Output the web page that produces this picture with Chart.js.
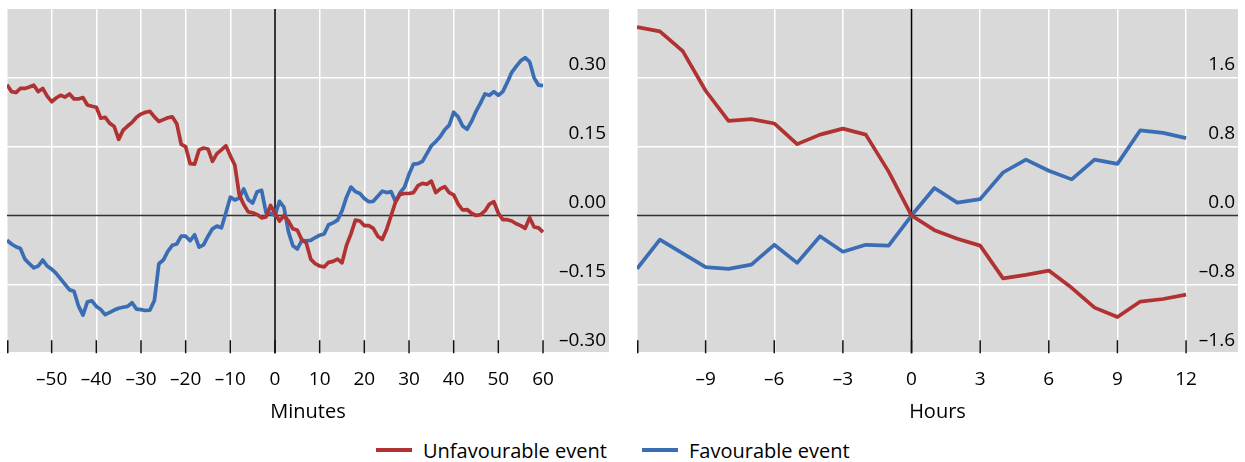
<!DOCTYPE html>
<html>
<head>
<meta charset="utf-8">
<script src="https://cdn.jsdelivr.net/npm/chart.js@4"></script>
<style>
  html, body { margin: 0; padding: 0; background: #fff; }
  body { width: 1245px; height: 462px; position: relative; overflow: hidden; font-family: "Open Sans", sans-serif; }
  #c1 { position: absolute; left: 0; top: 0; }
  #c2 { position: absolute; left: 620px; top: 0; }
  .leg { position: absolute; top: 437px; height: 26px; display: flex; align-items: center; font-size: 20px; color: #000; white-space: nowrap; }
  .leg .sw { width: 36px; height: 4px; margin-right: 11px; }
</style>
</head>
<body>
<canvas id="c1" width="620" height="430" style="width:620px;height:430px"></canvas>
<canvas id="c2" width="625" height="430" style="width:625px;height:430px"></canvas>
<div class="leg" style="left:376px"><span class="sw" style="background:#B03232"></span><span>Unfavourable event</span></div>
<div class="leg" style="left:642px"><span class="sw" style="background:#3B6DB4"></span><span>Favourable event</span></div>
<script>
// ---------- Left panel: minutes ----------
const minutes = [-60,-59,-58,-57,-56,-55,-54,-53,-52,-51,-50,-49,-48,-47,-46,-45,-44,-43,-42,-41,
  -40,-39,-38,-37,-36,-35,-34,-33,-32,-31,-30,-29,-28,-27,-26,-25,-24,-23,-22,-21,
  -20,-19,-18,-17,-16,-15,-14,-13,-12,-11,-10,-9,-8,-7,-6,-5,-4,-3,-2,-1,
  0,1,2,3,4,5,6,7,8,9,10,11,12,13,14,15,16,17,18,19,
  20,21,22,23,24,25,26,27,28,29,30,31,32,33,34,35,36,37,38,39,
  40,41,42,43,44,45,46,47,48,49,50,51,52,53,54,55,56,57,58,59,60];
const unfavMinutes = [0.285,0.270,0.268,0.277,0.277,0.280,0.284,0.270,0.277,0.260,
  0.248,0.256,0.262,0.258,0.265,0.254,0.254,0.257,0.241,0.238,
  0.236,0.212,0.214,0.201,0.194,0.166,0.186,0.195,0.203,0.214,
  0.221,0.225,0.227,0.215,0.205,0.209,0.213,0.215,0.200,0.155,
  0.150,0.113,0.112,0.143,0.147,0.145,0.118,0.135,0.143,0.152,
  0.130,0.110,0.045,0.024,0.008,0.006,0.002,-0.005,-0.003,0.022,
  0.005,-0.012,0.000,-0.012,-0.029,-0.032,-0.053,-0.060,-0.095,-0.105,
  -0.110,-0.112,-0.102,-0.100,-0.095,-0.103,-0.065,-0.040,-0.010,-0.012,
  -0.022,-0.022,-0.028,-0.045,-0.052,-0.030,0.000,0.030,0.046,0.048,
  0.048,0.050,0.065,0.070,0.068,0.075,0.050,0.058,0.063,0.050,
  0.045,0.025,0.012,0.013,0.005,0.000,0.002,0.010,0.025,0.030,
  0.005,-0.009,-0.009,-0.012,-0.018,-0.022,-0.028,-0.005,-0.025,-0.027,-0.036];
const favMinutes = [-0.054,-0.062,-0.068,-0.072,-0.095,-0.105,-0.114,-0.110,-0.097,-0.110,
  -0.117,-0.126,-0.138,-0.150,-0.162,-0.165,-0.197,-0.217,-0.188,-0.186,
  -0.198,-0.205,-0.216,-0.211,-0.206,-0.202,-0.200,-0.198,-0.190,-0.204,
  -0.205,-0.207,-0.206,-0.185,-0.105,-0.097,-0.078,-0.065,-0.062,-0.045,
  -0.045,-0.055,-0.042,-0.069,-0.064,-0.045,-0.029,-0.023,-0.027,0.006,
  0.040,0.034,0.038,0.058,0.035,0.027,0.052,0.055,0.006,0.005,
  0.000,0.031,0.018,-0.035,-0.066,-0.073,-0.054,-0.055,-0.054,-0.048,
  -0.043,-0.040,-0.020,-0.016,-0.010,0.010,0.040,0.062,0.052,0.048,
  0.037,0.030,0.031,0.042,0.053,0.050,0.052,0.030,0.050,0.062,
  0.090,0.112,0.113,0.118,0.135,0.152,0.161,0.172,0.187,0.197,
  0.225,0.215,0.195,0.188,0.205,0.227,0.245,0.265,0.262,0.270,
  0.262,0.270,0.290,0.312,0.325,0.337,0.344,0.335,0.300,0.284,0.283];
const minuteTicks = [-60,-50,-40,-30,-20,-10,0,10,20,30,40,50,60];
const minuteLabels = [-50,-40,-30,-20,-10,0,10,20,30,40,50,60];
const minuteYTicks = [-0.30,-0.15,0.00,0.15,0.30];

// ---------- Right panel: hours ----------
const hours = [-12,-11,-10,-9,-8,-7,-6,-5,-4,-3,-2,-1,0,1,2,3,4,5,6,7,8,9,10,11,12];
const unfavHours = [2.19,2.14,1.91,1.45,1.10,1.12,1.07,0.83,0.94,1.01,0.94,0.51,0,-0.17,-0.27,-0.35,-0.73,-0.69,-0.64,-0.84,-1.07,-1.18,-1.00,-0.97,-0.92];
const favHours = [-0.62,-0.28,-0.44,-0.60,-0.62,-0.57,-0.34,-0.55,-0.24,-0.42,-0.34,-0.35,0,0.32,0.15,0.19,0.50,0.65,0.52,0.42,0.65,0.60,0.99,0.96,0.90];
const hourTicks = [-12,-9,-6,-3,0,3,6,9,12];
const hourLabels = [-9,-6,-3,0,3,6,9,12];
const hourYTicks = [-1.6,-0.8,0.0,0.8,1.6];

const RED = '#B03232';
const BLUE = '#3B6DB4';
const GRAY = '#D9D9D9';
const FONT = '"Open Sans", sans-serif';

function fmt(v, d) { return v.toFixed(d).replace('-', '\u2013'); }
function noPad(ax) { ax.paddingLeft = 0; ax.paddingRight = 0; ax.paddingTop = 0; ax.paddingBottom = 0; }
function noPadY(ax) { noPad(ax); ax.width = 0; }

const panelPlugin = {
  id: 'panel',
  beforeDraw(chart) {
    const a = chart.chartArea, ctx = chart.ctx;
    ctx.save();
    ctx.fillStyle = GRAY;
    ctx.fillRect(a.left, a.top, a.right - a.left, a.bottom - a.top);
    ctx.restore();
  },
  beforeDatasetsDraw(chart) {
    const a = chart.chartArea, ctx = chart.ctx;
    const xs = chart.scales.x, ys = chart.scales.y;
    ctx.save();
    ctx.lineWidth = 1.5;
    ctx.strokeStyle = '#333';
    const y0 = ys.getPixelForValue(0);
    ctx.beginPath(); ctx.moveTo(a.left, y0); ctx.lineTo(a.right, y0); ctx.stroke();
    ctx.strokeStyle = '#000';
    const x0 = xs.getPixelForValue(0);
    ctx.beginPath(); ctx.moveTo(x0, a.top); ctx.lineTo(x0, a.bottom); ctx.stroke();
    ctx.strokeStyle = '#111';
    ctx.lineWidth = 1.5;
    for (const v of chart.options.plugins.panel.ticks) {
      const px = Math.max(xs.getPixelForValue(v), a.left + 0.75);
      ctx.beginPath(); ctx.moveTo(px, a.bottom - 13); ctx.lineTo(px, a.bottom); ctx.stroke();
    }
    ctx.restore();
  }
};

function makeChart(id, xVals, s1, s2, xMin, xMax, xTicks, xLabels, yMin, yMax, yTicks, dec, title, pad) {
  const gridColor = (c) => (c.tick && c.tick.value === 0) ? 'rgba(0,0,0,0)' : '#ffffff';
  return new Chart(document.getElementById(id), {
    type: 'line',
    data: {
      datasets: [
        { label: 'Unfavourable event', data: xVals.map((x, i) => ({ x, y: s1[i] })), borderColor: RED, borderWidth: 3.7, pointRadius: 0, tension: 0, borderJoinStyle: 'round', borderCapStyle: 'butt' },
        { label: 'Favourable event', data: xVals.map((x, i) => ({ x, y: s2[i] })), borderColor: BLUE, borderWidth: 3.7, pointRadius: 0, tension: 0, borderJoinStyle: 'round', borderCapStyle: 'butt' }
      ]
    },
    options: {
      responsive: false,
      animation: false,
      devicePixelRatio: 1,
      layout: { padding: pad },
      plugins: { legend: { display: false }, tooltip: { enabled: false }, panel: { ticks: xTicks } },
      scales: {
        x: {
          type: 'linear', min: xMin, max: xMax,
          afterBuildTicks: (ax) => { ax.ticks = xTicks.map(v => ({ value: v })); },
          afterFit: noPad,
          ticks: {
            autoSkip: false, maxRotation: 0, padding: 15, color: '#000',
            font: { family: FONT, size: 19 },
            callback: (v) => xLabels.includes(v) ? fmt(v, 0) : ''
          },
          grid: { color: gridColor, lineWidth: 1.5, drawTicks: false },
          border: { display: false },
          title: { display: true, text: title, color: '#000', font: { family: FONT, size: 20 }, padding: { top: -6, bottom: 0 } }
        },
        y: {
          position: 'right', min: yMin, max: yMax,
          afterBuildTicks: (ax) => { ax.ticks = yTicks.map(v => ({ value: v })); },
          afterFit: noPadY,
          ticks: {
            mirror: true, padding: -3, labelOffset: -13, color: '#000',
            font: { family: FONT, size: 19 },
            callback: (v) => fmt(v, dec)
          },
          grid: { color: gridColor, lineWidth: 1.5, drawTicks: false },
          border: { display: false }
        }
      }
    },
    plugins: [panelPlugin]
  });
}

makeChart('c1', minutes, unfavMinutes, favMinutes, -60, 74.77, minuteTicks, minuteLabels,
  -0.30, 0.45, minuteYTicks, 2, 'Minutes', { left: 7, right: 11, top: 9, bottom: 6 });
makeChart('c2', hours, unfavHours, favHours, -12, 14.27, hourTicks, hourLabels,
  -1.6, 2.4, hourYTicks, 1, 'Hours', { left: 17, right: 7, top: 9, bottom: 6 });
</script>
</body>
</html>
